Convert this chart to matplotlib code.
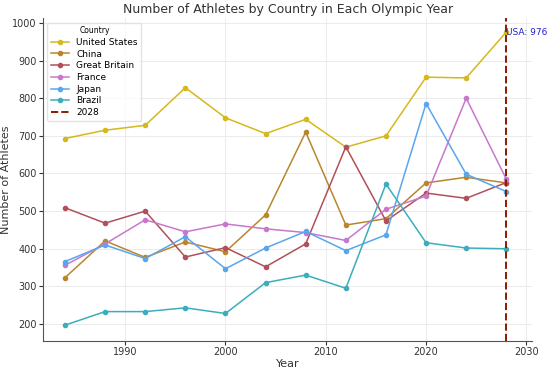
import matplotlib.pyplot as plt

years = [1984, 1988, 1992, 1996, 2000, 2004, 2008, 2012, 2016, 2020, 2024, 2028]
usa = [693, 715, 728, 828, 748, 706, 744, 670, 700, 856, 854, 976]
china = [323, 421, 377, 418, 392, 490, 710, 463, 480, 575, 590, 575]
gb = [509, 468, 500, 378, 403, 352, 413, 671, 474, 548, 534, 576]
france = [356, 413, 477, 445, 466, 453, 443, 422, 505, 540, 800, 585]
japan = [366, 410, 374, 432, 347, 402, 446, 395, 437, 786, 598, 552]
brazil = [197, 233, 233, 243, 228, 310, 330, 295, 572, 416, 402, 400]

countries = ["United States", "China", "Great Britain", "France", "Japan", "Brazil"]
series = [usa, china, gb, france, japan, brazil]
colors = ["#d4b81c", "#b8862e", "#b0505a", "#c878cc", "#5aa6ec", "#3aaebc"]

fig, ax = plt.subplots(figsize=(5.5, 3.69), dpi=100)
for name, vals, c in zip(countries, series, colors):
    ax.plot(years, vals, marker='o', markersize=3, linewidth=1.1, color=c, label=name)

ax.axvline(2028, color='#8b1a00', linestyle='--', linewidth=1.4, label='2028')
ax.text(2028, usa[-1], 'USA: 976', color='#2020d0', fontsize=6.5, va='center', ha='left')

ax.set_xlim(1981.8, 2030.6)
ax.set_ylim(155, 1013)
ax.set_xticks([1990, 2000, 2010, 2020, 2030])
ax.set_yticks(range(200, 1001, 100))
ax.tick_params(labelsize=7, colors='#333333', length=3, pad=1.5)
ax.grid(True, color='#e8e8e8', linewidth=0.6)
for s in ['top', 'right']:
    ax.spines[s].set_visible(False)
ax.spines['left'].set_color('#555555')
ax.spines['bottom'].set_color('#555555')

ax.set_title('Number of Athletes by Country in Each Olympic Year', fontsize=9,
             color='#333333', pad=4)
ax.set_xlabel('Year', fontsize=8, color='#333333', labelpad=1)
ax.set_ylabel('Number of Athletes', fontsize=8, color='#333333', labelpad=1)
leg = ax.legend(title='Country', fontsize=6.5, title_fontsize=5.5, loc='upper left',
                frameon=True, borderpad=0.4, labelspacing=0.3, handlelength=2)
leg.get_frame().set_edgecolor('#dddddd')

fig.subplots_adjust(left=0.078, right=0.968, top=0.951, bottom=0.076)
fig.savefig('out.png', dpi=100)
